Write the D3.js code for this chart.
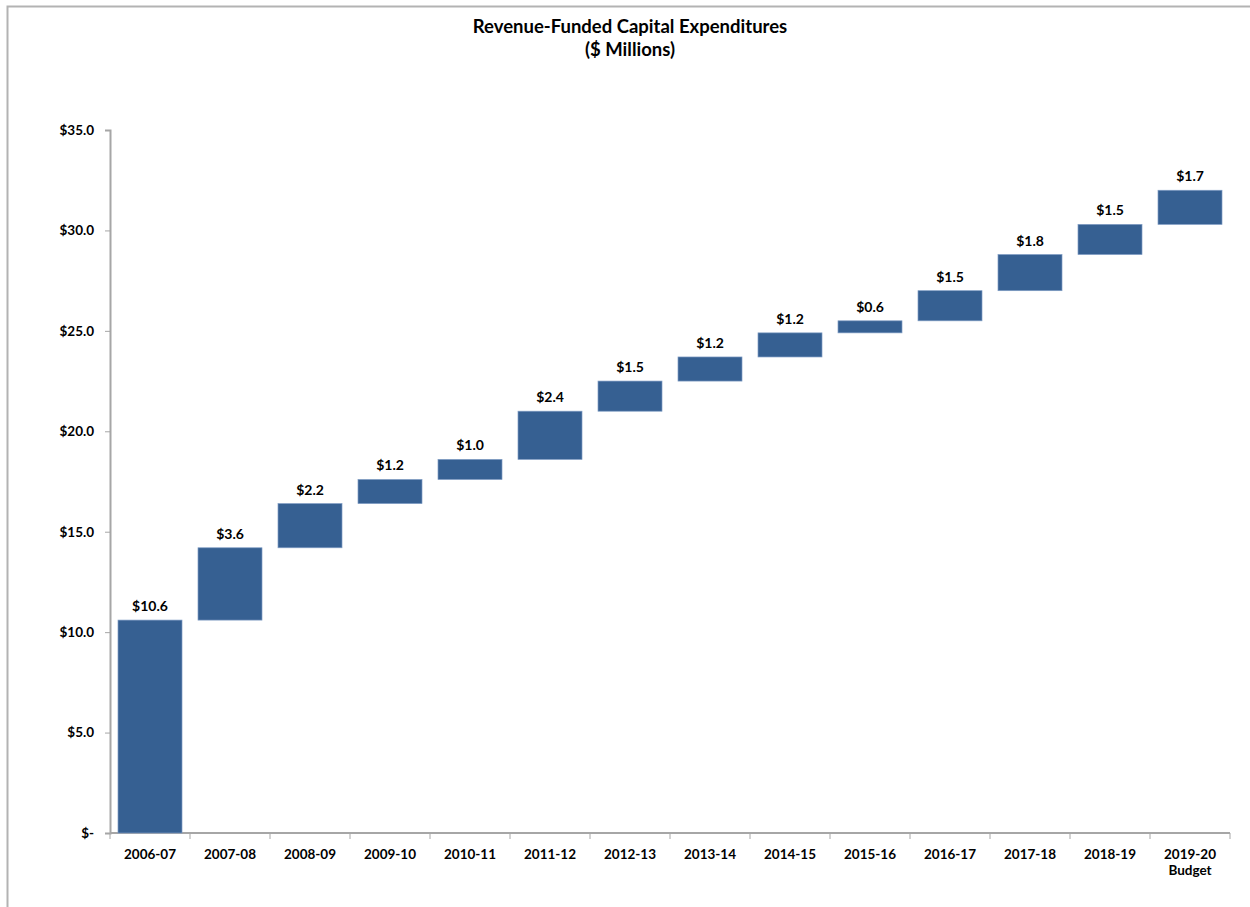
<!DOCTYPE html>
<html>
<head>
<meta charset="utf-8">
<script src="https://cdn.jsdelivr.net/npm/d3@7"></script>
<style>
  body { margin: 0; background: #fff; }
  text { font-family: Lato, "Open Sans", sans-serif; font-weight: bold; fill: #000; }
</style>
</head>
<body>
<script>
// fiscal years and the yearly increment ($ millions)
var years = ["2006-07", "2007-08", "2008-09", "2009-10", "2010-11", "2011-12", "2012-13",
             "2013-14", "2014-15", "2015-16", "2016-17", "2017-18", "2018-19", "2019-20"];
var yearNotes = ["", "", "", "", "", "", "", "", "", "", "", "", "", "Budget"];
var increments = [10.6, 3.6, 2.2, 1.2, 1.0, 2.4, 1.5, 1.2, 1.2, 0.6, 1.5, 1.8, 1.5, 1.7];
var yTicks = [0, 5, 10, 15, 20, 25, 30, 35];

// running totals give the floating bar ends
var steps = [];
var total = 0;
for (var i = 0; i < years.length; i++) {
  steps.push({year: years[i], note: yearNotes[i], value: increments[i], start: total, end: total + increments[i]});
  total += increments[i];
}

var width = 1250, height = 907;
var margin = {top: 130, right: 20, bottom: 74, left: 110};

var svg = d3.select("body").append("svg")
  .attr("width", width)
  .attr("height", height);

// outer chart border (only top and left show in the frame)
svg.append("rect")
  .attr("x", 7.5).attr("y", 6.5)
  .attr("width", width + 10).attr("height", height + 10)
  .attr("fill", "none")
  .attr("stroke", "#b3b3b3")
  .attr("stroke-width", 2);

svg.append("text")
  .attr("x", 630).attr("y", 33)
  .attr("text-anchor", "middle")
  .style("font-size", "18.5px")
  .text("Revenue-Funded Capital Expenditures");
svg.append("text")
  .attr("x", 630).attr("y", 56)
  .attr("text-anchor", "middle")
  .style("font-size", "18.5px")
  .text("($ Millions)");

var x = d3.scaleBand()
  .domain(years)
  .range([margin.left, width - margin.right])
  .paddingInner(0.2)
  .paddingOuter(0.1);

var y = d3.scaleLinear()
  .domain([0, 35])
  .range([height - margin.bottom, margin.top]);

// y axis
var yAxis = svg.append("g")
  .attr("transform", "translate(" + margin.left + ",0)")
  .call(d3.axisLeft(y)
    .tickValues(yTicks)
    .tickSize(5)
    .tickFormat(function(d) { return d === 0 ? "$-" : "$" + d.toFixed(1); }));
yAxis.select(".domain").attr("stroke", "#a6a6a6").attr("stroke-width", 2);
yAxis.selectAll(".tick line").attr("stroke", "#a6a6a6");
yAxis.selectAll(".tick text")
  .attr("x", -16)
  .style("font-size", "13.5px")
  .style("font-family", "Lato, sans-serif");

// x axis with ticks on the category boundaries
var xAxis = svg.append("g")
  .attr("transform", "translate(0," + y(0) + ")");
xAxis.append("line")
  .attr("x1", margin.left).attr("x2", width - margin.right)
  .attr("stroke", "#a6a6a6").attr("stroke-width", 2);
xAxis.selectAll(".bound")
  .data(d3.range(years.length + 1))
  .enter()
  .append("line")
    .attr("x1", function(d) { return margin.left + d * (width - margin.left - margin.right) / years.length; })
    .attr("x2", function(d) { return margin.left + d * (width - margin.left - margin.right) / years.length; })
    .attr("y1", 0).attr("y2", 6)
    .attr("stroke", "#a6a6a6");
var xl = xAxis.selectAll(".xlab")
  .data(steps)
  .enter()
  .append("text")
    .attr("text-anchor", "middle")
    .attr("x", function(d) { return x(d.year) + x.bandwidth() / 2; })
    .attr("y", 26)
    .style("font-size", "13.5px");
xl.append("tspan").text(function(d) { return d.year; });
xl.append("tspan")
  .attr("x", function(d) { return x(d.year) + x.bandwidth() / 2; })
  .attr("dy", 16)
  .text(function(d) { return d.note; });

// floating bars
svg.selectAll(".bar")
  .data(steps)
  .enter()
  .append("rect")
    .attr("x", function(d) { return x(d.year); })
    .attr("y", function(d) { return y(d.end); })
    .attr("width", x.bandwidth())
    .attr("height", function(d) { return y(d.start) - y(d.end); })
    .attr("fill", "#366092")
    .attr("stroke", "#7f9cc4")
    .attr("stroke-width", 0.7);

svg.selectAll(".val")
  .data(steps)
  .enter()
  .append("text")
    .attr("text-anchor", "middle")
    .attr("x", function(d) { return x(d.year) + x.bandwidth() / 2; })
    .attr("y", function(d) { return y(d.end) - 9; })
    .style("font-size", "14px")
    .text(function(d) { return "$" + d.value.toFixed(1); });
</script>
</body>
</html>
